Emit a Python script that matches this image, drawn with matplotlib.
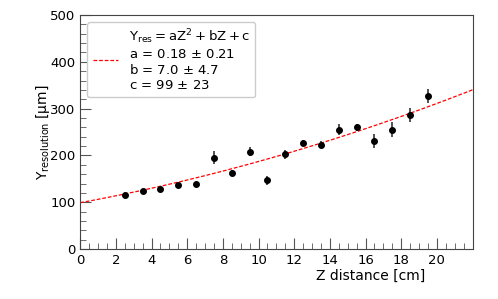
import numpy as np
import matplotlib.pyplot as plt
from matplotlib.ticker import MultipleLocator

# measured resolution vs Z distance
z_cm = [2.5, 3.5, 4.5, 5.5, 6.5, 7.5, 8.5, 9.5, 10.5,
        11.5, 12.5, 13.5, 14.5, 15.5, 16.5, 17.5, 18.5, 19.5]
y_res = [116, 124, 128, 137, 140, 195, 163, 208, 147,
         202, 226, 223, 255, 260, 230, 255, 286, 327]
y_err = [3, 3, 3, 3, 4, 14, 6, 9, 10,
         10, 6, 7, 12, 8, 15, 16, 15, 15]
x_ticks = [0, 2, 4, 6, 8, 10, 12, 14, 16, 18, 20]

# fit parameters from the legend
fit_a, fit_b, fit_c = 0.18, 7.0, 99.0

fig = plt.figure(figsize=(4.98, 2.99), dpi=100)
ax = fig.add_axes([0.161, 0.167, 0.788, 0.783])

zz = np.linspace(0, 22, 200)
ax.plot(zz, fit_a*zz**2 + fit_b*zz + fit_c, color='red', lw=0.9,
        linestyle=(0, (3, 1.5)),
        label="$\\mathrm{Y_{res} = aZ^2 + bZ + c}$\n"
              "a = 0.18 $\\pm$ 0.21\nb = 7.0 $\\pm$ 4.7\nc = 99 $\\pm$ 23")
ax.errorbar(z_cm, y_res, yerr=y_err, fmt='o', color='black', ms=4,
            ecolor='#333333', elinewidth=1.2, capsize=0, zorder=3)

ax.set_xlim(0, 22)
ax.set_ylim(0, 500)
ax.set_xticks(x_ticks)
ax.xaxis.set_minor_locator(MultipleLocator(0.5))
ax.yaxis.set_major_locator(MultipleLocator(100))
ax.yaxis.set_minor_locator(MultipleLocator(20))
ax.tick_params(which='both', direction='in', labelsize=9.5, color='#555555')
ax.tick_params(which='major', length=8)
ax.tick_params(which='minor', length=4)
for sp in ax.spines.values():
    sp.set_color('#444444')

ax.set_xlabel("Z distance [cm]", fontsize=10)
ax.xaxis.set_label_coords(0.739, -0.085)
ax.set_ylabel("$\\mathrm{Y_{resolution}}$ [µm]", fontsize=10)
ax.yaxis.set_label_coords(-0.072, 0.5)

leg = ax.legend(loc='upper left', bbox_to_anchor=(0.018, 0.97), fontsize=9.5,
                handlelength=1.9, labelspacing=0.1, borderpad=0.4,
                borderaxespad=0, handletextpad=0.85, framealpha=1)
leg.get_frame().set_edgecolor('#cccccc')

fig.savefig("out.png", dpi=100)
